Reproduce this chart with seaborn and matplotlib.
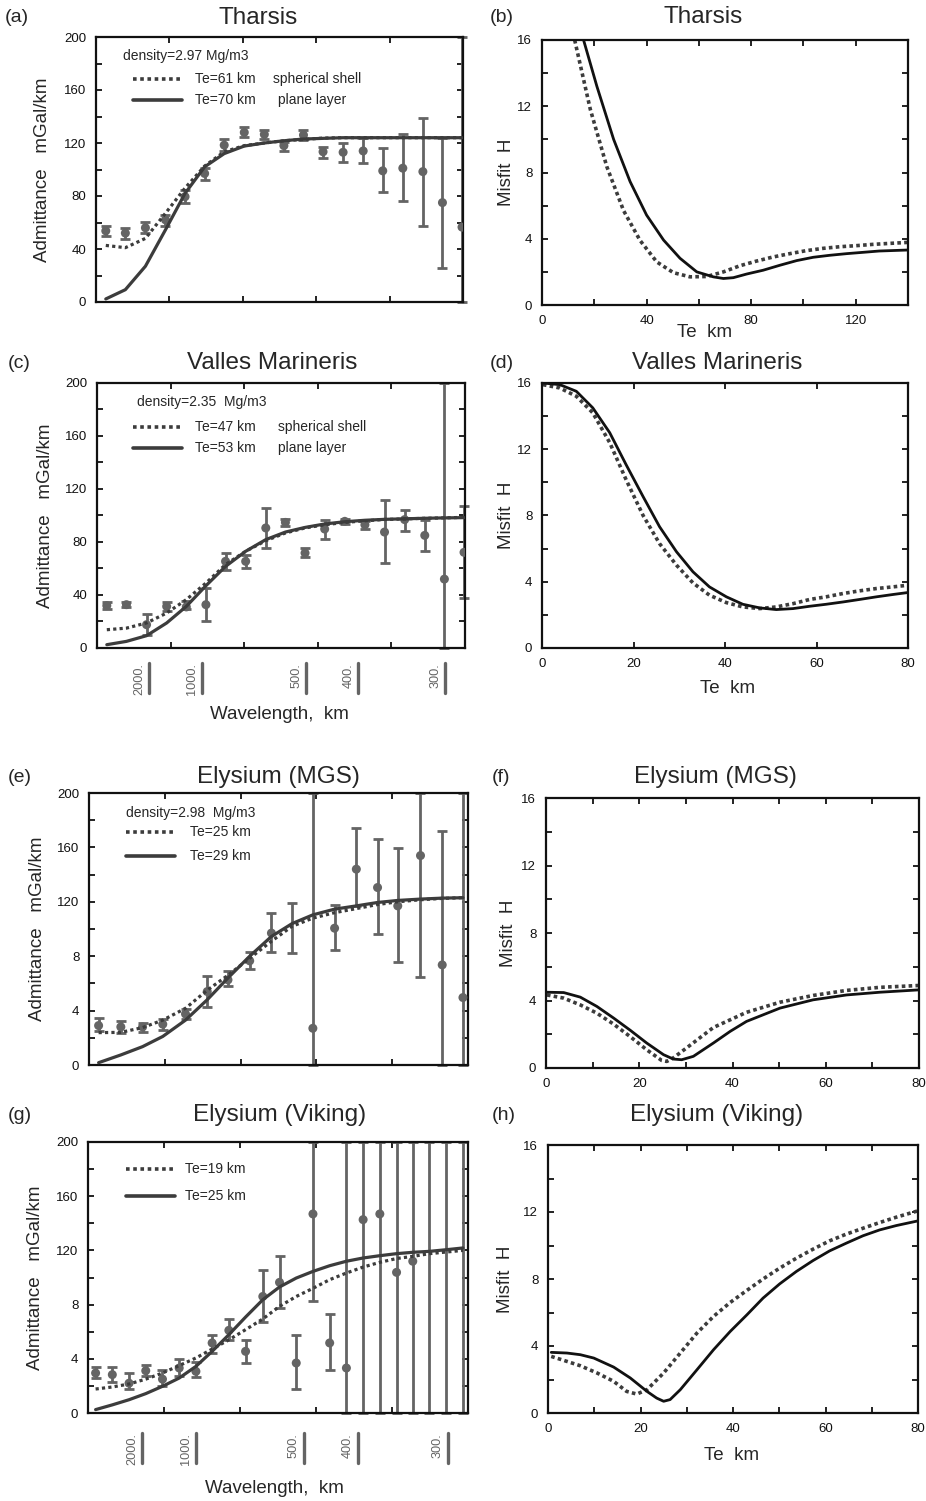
import numpy as np
import pandas as pd
import seaborn as sns
import matplotlib
matplotlib.use("Agg")
from matplotlib import pyplot as plt

# ---------------- admittance data ----------------
# harmonic degree of the estimates, panels (a) and (c)
deg_ac = [2.0, 6.0, 10.1, 14.2, 18.2, 22.2, 26.2, 30.3, 34.4, 38.4,
          42.4, 46.4, 50.5, 54.6, 58.6, 62.7, 66.8, 70.8, 74.8]

tharsis_obs = [53.7, 52, 56, 62, 79.5, 97, 118.4, 128, 126.5, 118,
               126, 113.4, 113, 114, 99, 101, 98.4, 75, 56.5]
tharsis_lo = [50, 47.4, 52, 57, 74.5, 92, 114, 124.7, 123, 114.2,
              122.2, 109, 106, 104.6, 82.8, 76.3, 57.7, 26, 0]
tharsis_hi = [57, 55.7, 60.7, 65.7, 84.6, 101.4, 122.7, 132, 129.7, 121,
              129.7, 117, 119.7, 123.5, 116, 126.5, 139, 123.5, 200]
tharsis_te61 = [42.7, 41, 48, 67, 86, 102.6, 113.4, 118, 120, 121.7,
                122.7, 123.7, 124, 124, 124, 124, 124, 124, 124]
tharsis_te70 = [2.3, 9.3, 27, 54.5, 82, 102, 112, 117.7, 120, 121.7,
                123, 123.5, 124, 124, 124, 124, 124, 124, 124]

valles_obs = [32, 32.7, 17.6, 31.4, 31, 32.7, 65.4, 65.4, 90.6, 94.8,
              71.7, 89.8, 95.6, 93, 87.5, 96.9, 85, 52, 72.2]
valles_lo = [29.4, 30.7, 10, 28, 29.4, 20.6, 58.6, 60.4, 75.5, 92.3,
             68.4, 82.5, 93.6, 89.8, 64.2, 88, 73, 0, 37.7]
valles_hi = [34.5, 35, 25.7, 34.5, 35.7, 45, 71.7, 70.4, 105.7, 97.4,
             75.5, 96.9, 97.6, 95.6, 111.4, 104.4, 96.9, 200, 107.4]
valles_te47 = [13.8, 15, 18.9, 26.4, 36.5, 49, 63, 73, 81, 86.8,
               90.6, 93, 94.8, 96, 97, 97.4, 97.9, 98.2, 98.6]
valles_te53 = [2.5, 5, 9.3, 18.9, 31.4, 47, 61.6, 73, 81.8, 87.5,
               91, 93.6, 95.3, 96.4, 97.1, 97.5, 97.9, 98.2, 98.4]

deg_e = [1.9, 6.3, 10.6, 14.6, 19.1, 23.4, 27.5, 31.8, 36.1, 40.2,
         44.3, 48.6, 52.9, 57.1, 61.1, 65.6, 69.9, 74.0]
mgs_obs = [29, 28, 28, 30, 37.5, 54, 62.6, 76.6, 97, np.nan,
           27, 100.6, 144, 130.5, 117, 154, 73.6, 49.6]
mgs_lo = [25, 23.8, 24.5, 26, 33.6, 43, 58, 70.4, 83.4, 82,
          0, 84.7, 116.6, 96, 76, 64.5, 0, 0]
mgs_hi = [34.4, 32.6, 31, 33.6, 41, 65.5, 69.4, 83.4, 112, 119,
          200, 118, 174, 166, 159.5, 200, 172, 200]
mgs_te25 = [23.8, 24, 27.5, 33, 41.7, 55, 66, 78.5, 91, 102,
            108, 112, 115, 118, 120, 121.5, 122.5, 123]
mgs_te29 = [1.7, 7.4, 13.5, 21, 33, 48, 64, 80, 94.5, 104,
            110.4, 114.6, 117, 119.5, 121, 122, 122.7, 123]

deg_g = [1.5, 4.8, 8.1, 11.4, 14.7, 18.0, 21.3, 24.5, 27.8, 31.1, 34.5, 37.8,
         41.1, 44.4, 47.7, 51.0, 54.3, 57.6, 60.9, 64.1, 67.4, 70.7, 74.0]
vik_obs = [29.5, 28.3, 22, 31.2, 25, 33.2, 30.7, 51.7, 61, 45.5, 86, 96.4,
           36.9, 146.9, 51.7, 33.2, 142.7, 146.9, 103.8, 112, np.nan, np.nan, np.nan]
vik_lo = [25.8, 22.6, 17.7, 27.6, 19.7, 27, 26.3, 44.3, 53.6, 36.9, 67.2, 77.5,
          17.7, 83, 32, 0, 0, 0, 0, 0, 0, 0, 0]
vik_hi = [34, 34, 29.5, 35.2, 31.5, 39.9, 37.4, 57.8, 69.4, 54, 105.3, 116,
          57.8, 200, 73.3, 200, 200, 200, 200, 200, 200, 200, 200]
vik_te19 = [17.7, 19.2, 21.4, 25, 29.5, 35, 40.6, 47.2, 54, 61.5, 69.4, 78.7,
            86, 92, 98.4, 103.3, 107.7, 111.2, 114, 115.6, 117.6, 118.8, 120]
vik_te25 = [2.5, 6, 9.8, 14.3, 19.7, 25.8, 34.4, 45.5, 57.8, 70.8, 83.6, 93,
            99.6, 104.5, 108.7, 112, 114.4, 116.1, 117.6, 118.6, 119.3, 120.5, 121.8]

# wavelength marks (km), degree = 2*pi*R/lambda
wavelengths = [2000, 1000, 500, 400, 300]
mars_radius = 3390.0

# ---------------- misfit data ----------------
b_sph_te = [12.5, 18.5, 24.8, 31.2, 37.5, 43.9, 50.3, 56.6, 63, 69.4, 75.7,
            82, 88.4, 94.8, 101, 107.5, 114, 120, 126.5, 133, 140]
b_sph_h = [16, 11.8, 8.35, 5.7, 3.9, 2.6, 1.95, 1.7, 1.72, 2.0, 2.37,
           2.65, 2.9, 3.1, 3.28, 3.42, 3.52, 3.58, 3.66, 3.72, 3.78]
b_pl_te = [15.9, 21, 27.4, 33.7, 40, 46.5, 52.8, 59.2, 65.5, 69.4, 73.2,
           78.3, 84.6, 91, 97.4, 103.7, 110, 116.5, 122.8, 129, 140]
b_pl_h = [16, 13.2, 10, 7.45, 5.43, 3.92, 2.82, 2.0, 1.7, 1.6, 1.65,
          1.87, 2.1, 2.4, 2.68, 2.88, 3.0, 3.1, 3.18, 3.26, 3.32]

d_te = [0.2, 3.9, 7.5, 11.1, 14.8, 18.4, 22.1, 25.7, 29.4, 33, 36.6, 40.3,
        43.9, 47.6, 51.2, 54.9, 58.5, 62.1, 65.8, 69.4, 73.1, 76.7, 80]
d_sph_h = [15.9, 15.7, 15.2, 14.2, 12.4, 10.15, 8.0, 6.3, 5.0, 3.93, 3.19, 2.74,
           2.48, 2.38, 2.48, 2.68, 2.93, 3.09, 3.29, 3.45, 3.59, 3.69, 3.79]
d_pl_h = [16, 15.9, 15.5, 14.5, 13, 11.06, 9.14, 7.32, 5.81, 4.6, 3.69, 3.09,
          2.64, 2.42, 2.32, 2.38, 2.52, 2.64, 2.78, 2.93, 3.09, 3.23, 3.35]

f_sph_te = [0.2, 3.8, 7.35, 10.9, 14.5, 18.1, 21.6, 24.8, 25.9, 27.3, 30.2,
            35.9, 43, 50.2, 57.3, 64.5, 71.6, 80]
f_sph_h = [4.33, 4.14, 3.74, 3.25, 2.6, 1.85, 1.08, 0.45, 0.39, 0.6, 1.2,
           2.4, 3.3, 3.9, 4.3, 4.6, 4.78, 4.89]
f_pl_te = [0.2, 3.8, 7.35, 10.9, 14.5, 18.1, 21.6, 25.2, 27.3, 29.1, 31.6,
           35.9, 39.5, 43, 50.2, 57.3, 64.5, 71.6, 80]
f_pl_h = [4.49, 4.47, 4.2, 3.65, 2.96, 2.23, 1.48, 0.79, 0.53, 0.49, 0.69,
          1.48, 2.17, 2.76, 3.55, 4.04, 4.33, 4.49, 4.63]

h_sph_te = [0.7, 4.1, 7, 10.6, 14.2, 17, 19.2, 21.4, 25, 28.6, 32.2, 35.8,
            39.4, 43, 46.5, 50.1, 53.7, 57.3, 60.9, 64.5, 68.1, 71.7, 75.3, 80]
h_sph_h = [3.38, 3.08, 2.82, 2.39, 1.89, 1.29, 1.13, 1.39, 2.39, 3.58, 4.77, 5.77,
           6.6, 7.32, 8.0, 8.65, 9.24, 9.78, 10.28, 10.68, 11.03, 11.37, 11.69, 12.07]
h_pl_te = [0.7, 4.1, 7, 9.9, 14.2, 17.8, 21.4, 23.5, 25, 26.4, 28.6, 32.2,
           35.8, 39.4, 43, 46.5, 50.1, 53.7, 57.3, 60.9, 64.5, 68.1, 71.7, 75.3, 80]
h_pl_h = [3.62, 3.58, 3.48, 3.28, 2.74, 2.09, 1.29, 0.89, 0.7, 0.8, 1.39, 2.58,
          3.78, 4.87, 5.86, 6.86, 7.71, 8.45, 9.1, 9.68, 10.14, 10.58, 10.93, 11.19, 11.47]

# ---------------- style ----------------
sns.set_theme(style="ticks")
plt.rcParams['font.family'] = ['Liberation Sans', 'DejaVu Sans']

BAR = '#646464'
CURVE = '#3c3c3c'
DOTS = (0, (1, 1))

W, H = 926, 1501
fig = plt.figure(figsize=(W / 100, H / 100), dpi=100)


def box(l, t, r, b):
    ax = fig.add_axes([l / W, 1 - b / H, (r - l) / W, (b - t) / H])
    for s in ax.spines.values():
        s.set_linewidth(1.6)
        s.set_color('#111111')
    ax.tick_params(which='both', direction='in', top=True, right=True,
                   length=4, width=1.3, labelsize=9.5, pad=7, colors='#111111')
    return ax


def heading(cx, cy, lx, tag, title):
    fig.text(cx / W, 1 - cy / H, title, ha='center', va='center', fontsize=17.5)
    fig.text(lx / W, 1 - cy / H, tag, ha='left', va='center', fontsize=14)


def admittance(ax, deg, obs, lo, hi, curves, ylab_x, odd_labels=False):
    ax.vlines(deg, lo, hi, color=BAR, lw=2, clip_on=False, zorder=2)
    ax.scatter(deg, lo, marker='_', s=45, color=BAR, linewidths=2, clip_on=False, zorder=2)
    ax.scatter(deg, hi, marker='_', s=45, color=BAR, linewidths=2, clip_on=False, zorder=2)
    sns.scatterplot(x=deg, y=obs, ax=ax, color=BAR, s=42, edgecolor='none', zorder=3)
    for vals, ls in curves:
        sns.lineplot(x=deg, y=vals, ax=ax, color=CURVE, lw=2.3, linestyle=ls,
                     errorbar=None, zorder=4)
    ax.set_xlim(0, 75)
    ax.set_ylim(0, 200)
    ax.set_xticks(np.arange(0, 76, 15))
    ax.set_xticklabels([])
    ax.set_yticks(np.arange(0, 201, 20))
    if odd_labels:
        labs = ['0', '', '4', '', '8', '', '120', '', '160', '', '200']
    else:
        labs = ['0', '', '40', '', '80', '', '120', '', '160', '', '200']
    ax.set_yticklabels(labs)
    ax.set_ylabel('Admittance   mGal/km', fontsize=13.5, va='center')
    ax.yaxis.set_label_coords(ylab_x, 0.5)


def key(ax, x0, x1, ys, texts, notes=None, note_x=None, tx=None):
    for y, ls, t in zip(ys, [DOTS, '-'], texts):
        ax.plot([x0, x1], [y, y], transform=ax.transAxes, color=CURVE, lw=2.6, linestyle=ls)
        ax.text(tx, y, t, transform=ax.transAxes, va='center', fontsize=10)
    if notes:
        for y, t, nx in zip(ys, notes, note_x):
            ax.text(nx, y, t, transform=ax.transAxes, va='center', fontsize=10)


def wave_marks(ax, y0, y1):
    tr = ax.get_xaxis_transform()
    for lam in wavelengths:
        l = 2 * np.pi * mars_radius / lam
        ax.plot([l, l], [y0, y1], transform=tr, clip_on=False, color=BAR, lw=2.4)
        ax.text(l - 0.8, y0, f"{lam}.", rotation=90, ha='right', va='top',
                transform=tr, fontsize=9.2, color=BAR)


def misfit(ax, sph, pl, xmax, xstep, xlabels, ylab_x, xlab=None):
    sns.lineplot(x=sph[0], y=sph[1], ax=ax, color=CURVE, lw=2.6, linestyle=(0, (1, 0.9)),
                 errorbar=None, sort=False)
    sns.lineplot(x=pl[0], y=pl[1], ax=ax, color='#111111', lw=2.0, errorbar=None, sort=False)
    ax.set_xlim(0, xmax)
    ax.set_ylim(0, 16)
    ticks = np.arange(0, xmax + 1, xstep)
    ax.set_xticks(ticks)
    ax.set_xticklabels([str(int(t)) if int(t) in xlabels else '' for t in ticks])
    ax.set_yticks(np.arange(0, 17, 2))
    ax.set_yticklabels([str(v) if v % 4 == 0 else '' for v in range(0, 17, 2)])
    ax.set_ylabel('Misfit  H', fontsize=13.5, va='center')
    ax.yaxis.set_label_coords(ylab_x, 0.5)
    if xlab is not None:
        ax.set_xlabel('Te  km', fontsize=13.5, va='center')
        ax.xaxis.set_label_coords(*xlab)
    else:
        ax.set_xlabel('')


# (a) Tharsis admittance
ax = box(96, 37, 463, 302)
admittance(ax, deg_ac, tharsis_obs, tharsis_lo, tharsis_hi,
           [(tharsis_te61, DOTS), (tharsis_te70, '-')], -0.145)
ax.text(0.074, 0.928, 'density=2.97 Mg/m3', transform=ax.transAxes, va='center', fontsize=10)
key(ax, 0.10, 0.233, [0.843, 0.762], ['Te=61 km', 'Te=70 km'],
    ['spherical shell', 'plane layer'], [0.481, 0.496], tx=0.271)
heading(258, 18, 5, '(a)', 'Tharsis')

# (b) Tharsis misfit
ax = box(542, 40, 908, 305)
misfit(ax, (b_sph_te, b_sph_h), (b_pl_te, b_pl_h), 140, 20, [0, 40, 80, 120], -0.096,
       (0.445, -0.104))
heading(703, 17, 490, '(b)', 'Tharsis')

# (c) Valles Marineris admittance
ax = box(97, 383, 465, 648)
admittance(ax, deg_ac, valles_obs, valles_lo, valles_hi,
           [(valles_te47, DOTS), (valles_te53, '-')], -0.141)
ax.text(0.11, 0.927, 'density=2.35  Mg/m3', transform=ax.transAxes, va='center', fontsize=10)
key(ax, 0.098, 0.231, [0.834, 0.755], ['Te=47 km', 'Te=53 km'],
    ['spherical shell', 'plane layer'], [0.493, 0.493], tx=0.267)
wave_marks(ax, -0.057, -0.170)
ax.set_xlabel('Wavelength,  km', fontsize=13.5, va='center')
ax.xaxis.set_label_coords(0.495, -0.252)
heading(272, 363, 8, '(c)', 'Valles Marineris')

# (d) Valles Marineris misfit
ax = box(542, 383, 908, 648)
misfit(ax, (d_te, d_sph_h), (d_te, d_pl_h), 80, 20, [0, 20, 40, 60, 80], -0.096,
       (0.508, -0.151))
heading(717, 363, 490, '(d)', 'Valles Marineris')

# (e) Elysium MGS admittance
ax = box(89, 793, 468, 1065)
admittance(ax, deg_e, mgs_obs, mgs_lo, mgs_hi,
           [(mgs_te25, DOTS), (mgs_te29, '-')], -0.137, odd_labels=True)
ax.text(0.097, 0.926, 'density=2.98  Mg/m3', transform=ax.transAxes, va='center', fontsize=10)
key(ax, 0.098, 0.226, [0.855, 0.769], ['Te=25 km', 'Te=29 km'], tx=0.266)
heading(278, 777, 8, '(e)', 'Elysium (MGS)')

# (f) Elysium MGS misfit
ax = box(546, 798, 919, 1068)
misfit(ax, (f_sph_te, f_sph_h), (f_pl_te, f_pl_h), 80, 10, [0, 20, 40, 60, 80], -0.10)
heading(715, 777, 492, '(f)', 'Elysium (MGS)')

# (g) Elysium Viking admittance
ax = box(88, 1142, 468, 1413)
admittance(ax, deg_g, vik_obs, vik_lo, vik_hi,
           [(vik_te19, DOTS), (vik_te25, '-')], -0.139, odd_labels=True)
key(ax, 0.099, 0.228, [0.90, 0.80], ['Te=19 km', 'Te=25 km'], tx=0.254)
wave_marks(ax, -0.074, -0.185)
ax.set_xlabel('Wavelength,  km', fontsize=13.5, va='center')
ax.xaxis.set_label_coords(0.49, -0.277)
heading(280, 1115, 8, '(g)', 'Elysium (Viking)')

# (h) Elysium Viking misfit
ax = box(548, 1145, 918, 1413)
misfit(ax, (h_sph_te, h_sph_h), (h_pl_te, h_pl_h), 80, 10, [0, 20, 40, 60, 80], -0.116,
       (0.495, -0.157))
heading(717, 1115, 492, '(h)', 'Elysium (Viking)')

fig.savefig('out.png', dpi=100)
